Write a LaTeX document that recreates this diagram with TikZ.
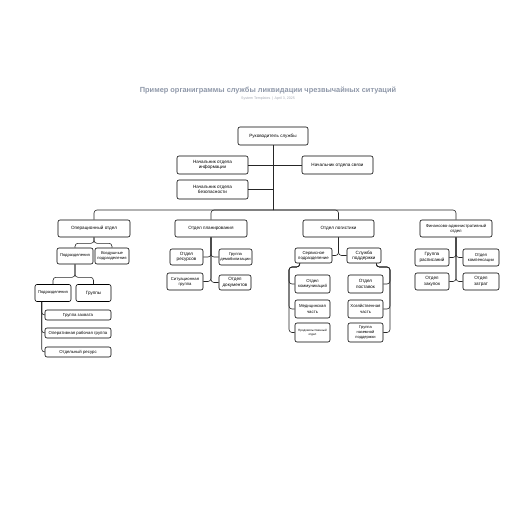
\documentclass[tikz,border=0pt]{standalone}
\usepackage{fontspec}
\setmainfont{Liberation Sans}
\usepackage{xcolor}
\usetikzlibrary{positioning,calc}
\definecolor{titlegrey}{HTML}{8E97A8}
\definecolor{subgrey}{HTML}{A3A8B2}

\tikzset{
  unit/.style={draw=black, line width=0.6pt, rounded corners=2pt, fill=white,
    align=center, inner sep=0pt, font=\fontsize{4.6}{5.4}\selectfont},
  sz/.style 2 args={minimum width=#1pt, minimum height=#2pt},
  conn/.style={draw=black!85, line width=0.6pt, rounded corners=3pt},
}

\begin{document}
\begin{tikzpicture}[x=1pt,y=-1pt]
\useasboundingbox (0,0) rectangle (516,516);
% title
\node[font=\bfseries\fontsize{7.4}{8}\selectfont, text=titlegrey] (title) at (268,91)
  {Пример органиграммы службы ликвидации чрезвычайных ситуаций};
\node[font=\fontsize{3.6}{4}\selectfont, text=subgrey] (subtitle) at (268,98.5)
  {System Templates \,|\, April 3, 2025};

% head and deputies
\node[unit, sz={70}{18}] (root) at (273,136) {Руководитель службы};
\node[unit, sz={71}{18}] (info) at (212.5,165) {Начальник отдела\\информации};
\node[unit, sz={71}{18}] (comms) at (337.5,165) {Начальник отдела связи};
\node[unit, sz={71}{19}] (safety) at (212.5,189.5) {Начальник отдела\\безопасности};

% departments
\node[unit, sz={72}{17}] (oper) at (94,228.5) {Операционный отдел};
\node[unit, sz={72}{17}] (plan) at (211,228.5) {Отдел планирования};
\node[unit, sz={71}{17}] (logi) at (338.5,228.5) {Отдел логистики};
\node[unit, sz={72}{17}, font=\fontsize{4.2}{5}\selectfont] (fin) at (456,228.5) {Финансово-административный\\отдел};

% operations
\node[unit, sz={36}{16}, font=\fontsize{4.1}{5}\selectfont] (divA) at (75,256) {Подразделения};
\node[unit, sz={34}{16}, font=\fontsize{4.1}{4.8}\selectfont] (air) at (112,256) {Воздушные\\подразделения};
\node[unit, sz={36}{17}, font=\fontsize{4.1}{5}\selectfont] (divB) at (53,293) {Подразделения};
\node[unit, sz={35}{17}] (groups) at (93.5,293) {Группы};
\node[unit, sz={66}{10}, font=\fontsize{4.3}{5}\selectfont] (strike) at (78,315) {Группа захвата};
\node[unit, sz={66}{10}, font=\fontsize{4.3}{5}\selectfont] (task) at (78,333) {Оперативная рабочая группа};
\node[unit, sz={66}{10}, font=\fontsize{4.3}{5}\selectfont] (single) at (78,352) {Отдельный ресурс};

% planning
\node[unit, sz={33}{16}] (res) at (186.5,257) {Отдел\\ресурсов};
\node[unit, sz={33}{16}, font=\fontsize{4.1}{4.8}\selectfont] (demob) at (235.5,257) {Группа\\демобилизации};
\node[unit, sz={36}{17}, font=\fontsize{4.2}{5}\selectfont] (sit) at (185,281.5) {Ситуационная\\группа};
\node[unit, sz={32}{15}] (docs) at (235,282.5) {Отдел\\документов};

% logistics
\node[unit, sz={37}{15}, font=\fontsize{4.3}{5}\selectfont] (serv) at (313.5,255.5) {Сервисное\\подразделение};
\node[unit, sz={34}{15}] (supp) at (364,255.5) {Служба\\поддержки};
\node[unit, sz={35}{18}, font=\fontsize{4.3}{5.2}\selectfont] (commu) at (312.5,284) {Отдел\\коммуникаций};
\node[unit, sz={35}{18}, font=\fontsize{4.3}{5.2}\selectfont] (med) at (312.5,309) {Медицинская\\часть};
\node[unit, sz={35}{19}, font=\fontsize{3}{3.8}\selectfont] (food) at (312.5,332.5) {Продовольственный\\отдел};
\node[unit, sz={35}{18}] (supply) at (365.5,284) {Отдел\\поставок};
\node[unit, sz={35}{18}, font=\fontsize{4.3}{5.2}\selectfont] (facil) at (365.5,309) {Хозяйственная\\часть};
\node[unit, sz={35}{19}, font=\fontsize{4}{4.8}\selectfont] (ground) at (365.5,332.5) {Группа\\наземной\\поддержки};

% finance
\node[unit, sz={34}{17}] (time) at (432,257.5) {Группа\\расписаний};
\node[unit, sz={36}{17}, font=\fontsize{4.3}{5}\selectfont] (comp) at (481,257.5) {Отдел\\компенсации};
\node[unit, sz={34}{17}] (proc) at (432,281.5) {Отдел\\закупок};
\node[unit, sz={36}{17}] (cost) at (481,281.5) {Отдел\\затрат};

% connectors
\coordinate (hub) at (273,210);
\draw[conn, line width=1pt] (root.south) -- (hub);
\draw[conn] (info.east) -- (info.east -| hub);
\draw[conn] (comms.west) -- (comms.west -| hub);
\draw[conn] (safety.east) -- (safety.east -| hub);
\foreach \d in {oper,plan,logi,fin}
  \draw[conn] (hub) -| (\d.north);

\foreach \c in {divA,air}
  \draw[conn] (oper.south) -- ++(0,6) -| (\c.north);
\foreach \c in {divB,groups}
  \draw[conn] (divA.south) -- ++(0,13) -| (\c.north);
\foreach \c in {strike,task,single}
  \draw[conn] ($(divB.south west)+(7,0)$) |- (\c.west);

\foreach \c in {res,sit}
  \draw[conn] (plan.south) |- (\c.east);
\foreach \c in {demob,docs}
  \draw[conn] (plan.south) |- (\c.west);

\draw[conn] (logi.south) |- (serv.east);
\draw[conn] (logi.south) |- (supp.west);
\coordinate (servbar) at (289,267);
\coordinate (suppbar) at (390,267);
\foreach \c in {commu,med,food}
  \draw[conn] ($(serv.south west)+(5,0)$) |- (servbar) |- (\c.west);
\foreach \c in {supply,facil,ground}
  \draw[conn] ($(supp.south east)+(-5,0)$) |- (suppbar) |- (\c.east);

\foreach \c in {time,proc}
  \draw[conn] (fin.south) |- (\c.east);
\foreach \c in {comp,cost}
  \draw[conn] (fin.south) |- (\c.west);
\end{tikzpicture}
\end{document}
